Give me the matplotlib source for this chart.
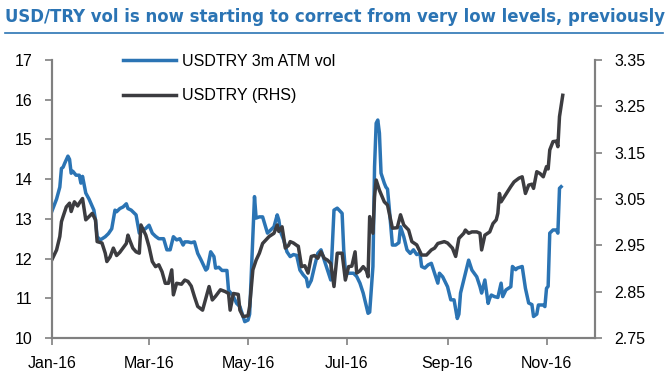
import numpy as np
import pandas as pd
import matplotlib
matplotlib.use("Agg")
import matplotlib.pyplot as plt
import matplotlib.dates as mdates
from matplotlib.lines import Line2D

# Data (days after 2016-01-01, value)
VOL_DAYS = [0, 3, 5, 6, 7, 8, 10, 11, 12, 13, 15, 17, 18, 19, 21, 23, 26, 27, 28, 30,
            33, 35, 37, 39, 40, 42, 44, 46, 47, 49, 50, 52, 54, 55, 58, 60, 62, 64, 66, 69,
            71, 73, 75, 77, 79, 81, 82, 84, 86, 88, 90, 92, 95, 96, 98, 100, 101, 103, 105, 108,
            109, 111, 112, 114, 116, 118, 119, 121, 122, 125, 126, 128, 130, 133, 137, 139, 140, 141, 143, 145,
            147, 149, 151, 153, 155, 157, 158, 160, 162, 164, 166, 168, 170, 172, 174, 176, 179, 180, 181, 183,
            186, 188, 190, 192, 194, 195, 196, 198, 199, 200, 201, 202, 203, 205, 206, 207, 208, 210, 212, 214,
            215, 217, 219, 221, 223, 225, 227, 228, 230, 232, 234, 236, 238, 239, 241, 244, 246, 248, 250, 251,
            252, 254, 256, 257, 259, 262, 264, 265, 267, 268, 269, 270, 271, 273, 275, 277, 278, 280, 283, 284,
            286, 287, 290, 292, 294, 296, 297, 299, 300, 303, 304, 305, 306, 307, 309, 311, 312, 313, 314]
VOL = [13.18, 13.50, 13.80, 14.27, 14.30, 14.40, 14.58, 14.50, 14.15, 14.20, 14.10, 14.10, 13.90, 14.07, 13.65, 13.50, 13.22, 12.97, 12.55, 12.47,
       12.55, 12.63, 12.75, 13.22, 13.18, 13.26, 13.30, 13.38, 13.26, 13.22, 13.18, 13.10, 12.64, 12.68, 12.76, 12.84, 12.64, 12.56, 12.50, 12.50,
       12.22, 12.22, 12.55, 12.47, 12.50, 12.34, 12.42, 12.42, 12.40, 12.42, 12.13, 11.97, 11.71, 11.75, 12.17, 12.05, 11.76, 11.78, 11.70, 11.70,
       11.20, 11.10, 11.04, 10.87, 10.79, 10.54, 10.41, 10.45, 10.60, 13.56, 13.02, 13.05, 13.05, 12.64, 12.80, 13.10, 12.97, 12.68, 12.47, 12.17,
       12.05, 12.10, 12.08, 11.71, 11.59, 11.50, 11.29, 11.45, 11.80, 12.13, 12.22, 11.96, 11.71, 11.46, 13.22, 13.27, 13.14, 12.22, 11.71, 11.63,
       11.63, 11.55, 11.38, 11.13, 10.79, 10.62, 10.65, 11.80, 14.31, 15.41, 15.49, 15.16, 14.15, 13.90, 13.80, 13.75, 13.30, 12.34, 12.34, 12.40,
       12.80, 12.55, 12.22, 12.13, 12.22, 12.10, 12.13, 11.80, 11.76, 11.84, 11.88, 11.63, 11.38, 11.63, 11.54, 11.29, 10.96, 10.96, 10.49, 10.60,
       11.13, 11.46, 11.80, 11.96, 11.71, 11.54, 11.29, 11.13, 11.46, 11.17, 10.87, 11.00, 11.08, 11.04, 11.02, 11.38, 11.04, 11.21, 11.29, 11.80,
       11.72, 11.76, 11.80, 11.25, 10.88, 10.84, 10.54, 10.60, 10.83, 10.83, 10.79, 11.25, 11.30, 12.64, 12.72, 12.72, 12.64, 13.77, 13.81]

FX_DAYS = [0, 3, 5, 6, 7, 9, 11, 12, 14, 16, 17, 19, 21, 23, 25, 27, 28, 31, 33, 34,
           36, 38, 40, 42, 46, 47, 48, 50, 52, 54, 55, 58, 60, 62, 64, 66, 68, 70, 72, 74,
           75, 77, 80, 82, 84, 86, 88, 90, 93, 97, 99, 101, 104, 107, 109, 110, 112, 115, 116, 118,
           121, 122, 124, 126, 128, 130, 133, 134, 137, 138, 139, 140, 142, 144, 146, 147, 149, 151, 152, 154,
           156, 158, 160, 162, 164, 166, 168, 170, 172, 174, 176, 179, 181, 183, 185, 187, 188, 190, 192, 194,
           195, 196, 198, 199, 200, 202, 205, 207, 210, 213, 215, 217, 220, 222, 225, 228, 231, 234, 236, 238,
           242, 244, 247, 249, 251, 254, 255, 257, 259, 262, 264, 265, 267, 270, 272, 274, 275, 276, 277, 279,
           283, 285, 288, 290, 292, 294, 296, 297, 299, 301, 303, 305, 306, 307, 309, 311, 312, 313, 315]
FX = [2.918, 2.940, 2.969, 3.001, 3.012, 3.033, 3.041, 3.023, 3.044, 3.035, 3.041, 3.051, 3.005, 3.012, 3.019, 3.005, 2.958, 2.955, 2.933, 2.915,
      2.925, 2.944, 2.928, 2.935, 2.954, 2.972, 2.962, 2.944, 2.936, 2.933, 2.994, 2.972, 2.947, 2.915, 2.904, 2.908, 2.893, 2.868, 2.868, 2.897,
      2.843, 2.868, 2.866, 2.875, 2.872, 2.862, 2.839, 2.818, 2.810, 2.861, 2.832, 2.840, 2.854, 2.850, 2.846, 2.810, 2.846, 2.844, 2.810, 2.796,
      2.798, 2.818, 2.897, 2.918, 2.933, 2.954, 2.965, 2.969, 2.976, 2.985, 2.994, 2.980, 2.990, 2.944, 2.950, 2.958, 2.955, 2.950, 2.948, 2.904,
      2.906, 2.890, 2.926, 2.928, 2.922, 2.936, 2.922, 2.918, 2.911, 2.861, 2.933, 2.933, 2.875, 2.904, 2.905, 2.936, 2.890, 2.895, 2.904, 2.895,
      2.882, 3.012, 2.976, 3.055, 3.091, 3.069, 3.044, 3.037, 2.987, 2.988, 3.016, 2.994, 2.983, 2.958, 2.951, 2.929, 2.929, 2.940, 2.944, 2.954,
      2.958, 2.955, 2.944, 2.926, 2.965, 2.976, 2.983, 2.976, 2.979, 2.979, 2.976, 2.940, 2.972, 2.979, 2.997, 3.005, 3.019, 3.062, 3.044, 3.055,
      3.077, 3.087, 3.095, 3.098, 3.062, 3.080, 3.082, 3.073, 3.109, 3.105, 3.098, 3.120, 3.115, 3.156, 3.174, 3.175, 3.163, 3.228, 3.274]

TITLE = "USD/TRY vol is now starting to correct from very low levels, previously"
VOL_LABEL = "USDTRY 3m ATM vol"
FX_LABEL = "USDTRY (RHS)"

BLUE = "#2B74B4"
DARK = "#3C3C40"
GREY = "#808080"

start = pd.Timestamp("2016-01-01")
vol_dates = start + pd.to_timedelta(VOL_DAYS, unit="D")
fx_dates = start + pd.to_timedelta(FX_DAYS, unit="D")

plt.rcParams["font.family"] = ["Liberation Sans", "DejaVu Sans"]

fig = plt.figure(figsize=(6.68, 3.78), dpi=100)
ax = fig.add_axes([0.0774, 0.106, 0.8136, 0.735])
ax2 = ax.twinx()

ax.plot(vol_dates, VOL, color=BLUE, lw=2.5, solid_joinstyle="round")
ax2.plot(fx_dates, FX, color=DARK, lw=2.5, solid_joinstyle="round")

ax.set_xlim(pd.Timestamp("2016-01-01"), pd.Timestamp("2016-12-01"))
ax.set_ylim(10, 17)
ax2.set_ylim(2.75, 3.35)
ax.set_yticks(np.arange(10, 18, 1))
ax2.set_yticks(np.arange(2.75, 3.36, 0.1))
ax2.yaxis.set_major_formatter(matplotlib.ticker.FormatStrFormatter("%.2f"))

ax.xaxis.set_major_locator(mdates.MonthLocator(bymonth=[1, 3, 5, 7, 9, 11]))
ax.xaxis.set_major_formatter(mdates.DateFormatter("%b-%y"))

for a in (ax, ax2):
    for side in ("left", "right", "bottom"):
        a.spines[side].set_color(GREY)
        a.spines[side].set_linewidth(1.5)
    a.spines["top"].set_visible(False)
    a.tick_params(axis="both", colors=GREY, labelcolor="black", labelsize=11.5,
                  length=5, width=1.2, direction="out")
ax.tick_params(axis="y", pad=9)
ax2.tick_params(axis="y", pad=9)
ax.tick_params(axis="x", pad=8)

handles = [Line2D([], [], color=BLUE, lw=2.5), Line2D([], [], color=DARK, lw=2.5)]
ax2.legend(handles, [VOL_LABEL, FX_LABEL], loc="upper left", bbox_to_anchor=(0.12, 1.045),
           frameon=False, fontsize=11.5, handlelength=3.3, handletextpad=0.35,
           labelspacing=1.2, borderaxespad=0)

# condensed bold title, sized to span the width like the original
fig.text(0.008, 0.955, TITLE, color=BLUE, fontsize=13.2, fontweight="bold",
         family="DejaVu Sans", fontstretch="condensed", va="center", ha="left")
fig.add_artist(Line2D([0.008, 0.992], [0.912, 0.912], color=BLUE, lw=1.2))

fig.savefig("out.png", dpi=100)
